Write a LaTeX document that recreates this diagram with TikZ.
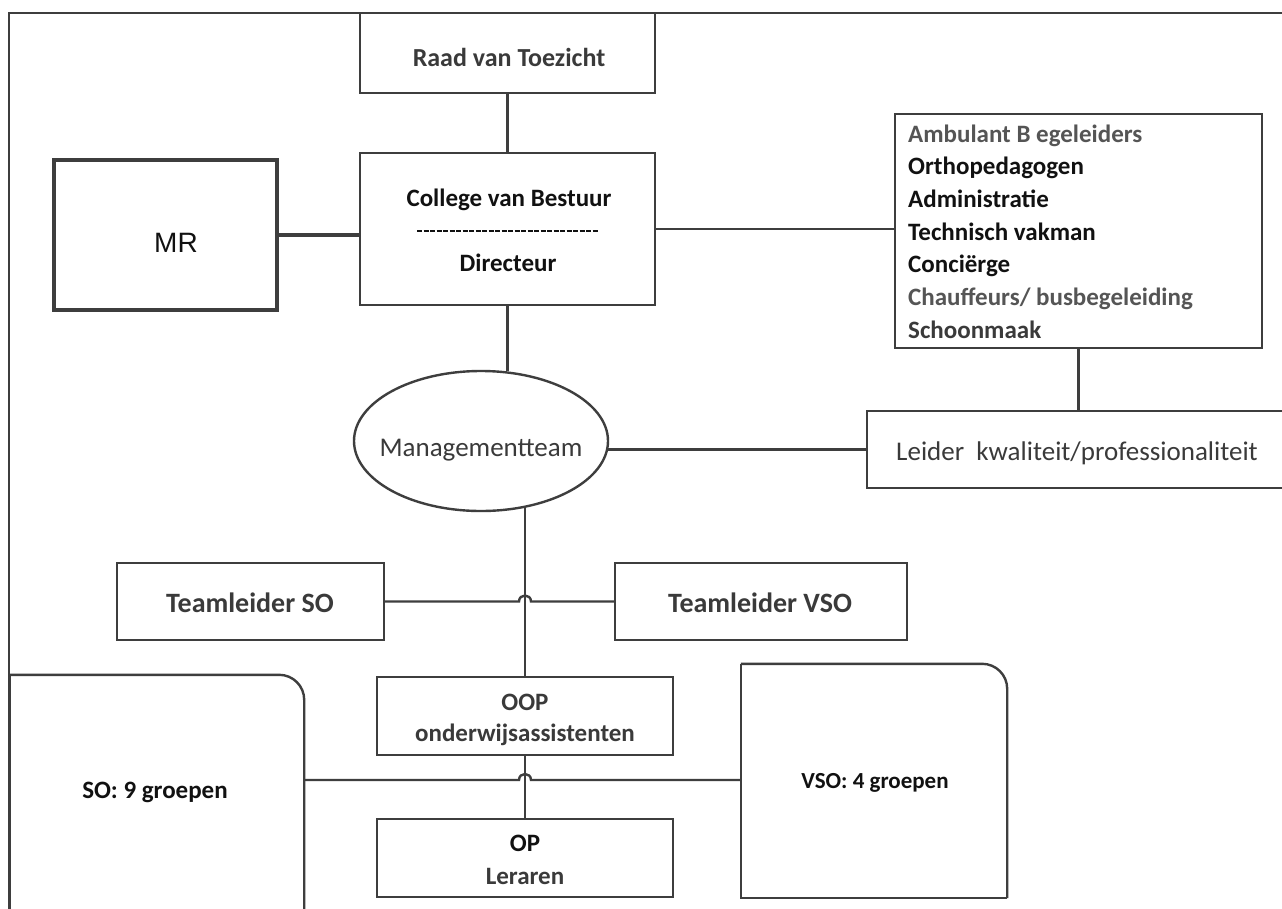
\documentclass[tikz,border=0pt]{standalone}
\usepackage{fontspec}
\setmainfont{Carlito}
\newfontfamily\arialf{Liberation Sans}
\usetikzlibrary{shapes.geometric,calc}
\definecolor{ln}{HTML}{3E3E3E}
\definecolor{tgA}{HTML}{3A3A3A}
\definecolor{tgB}{HTML}{555555}
\definecolor{tk}{HTML}{111111}
\begin{document}
\begin{tikzpicture}[x=1pt,y=-1pt,
  box/.style={draw=ln, line width=2.4pt, inner sep=0pt, fill=white},
  conn/.style={draw=ln, line width=2.4pt},
  txt/.style={inner sep=0pt, font=\fontsize{25}{30}\selectfont\bfseries},
  rtxt/.style={inner sep=0pt, font=\fontsize{27}{30}\selectfont},
  lst/.style={inner sep=0pt, anchor=base west, font=\fontsize{25}{30}\selectfont\bfseries},
]
\useasboundingbox (0,0) rectangle (1282,908);
\clip (0,0) rectangle (1282,908);
\fill[white] (0,0) rectangle (1282,908);

% frame
\draw[draw=ln, line width=2.8pt] (9,912) -- (9,13) -- (1290,13);

% boxes
\node[box, minimum width=295, minimum height=80] (raad) at (507.5,53) {};
\node[txt, text=tgA, font=\fontsize{26}{30}\selectfont\bfseries] (raadt) at (509,57) {Raad van Toezicht};

\node[box, minimum width=295, minimum height=152] (cvb) at (507.5,229) {};
\node[txt, text=tk] (cvbt) at (509,200) {College van Bestuur};
\node[txt, text=tk] (dirt) at (508,263) {Directeur};
\draw[tk, line width=1.2pt, dash pattern=on 5pt off 1.5pt] (417,231) -- (598,231);

\node[box, line width=3.8pt, minimum width=223, minimum height=150] (mr) at (165.5,235) {};
\node[inner sep=0pt, text=tk, font=\arialf\fontsize{28}{30}\selectfont] (mrt) at (176,243) {MR};

\node[box, minimum width=367, minimum height=234] (lst) at (1078.5,231) {};
\node[lst, text=tgB] (l1) at (908,142) {Ambulant B egeleiders};
\node[lst, text=tk] (l2) at (908,174.7) {Orthopedagogen};
\node[lst, text=tk] (l3) at (908,207.4) {Administratie};
\node[lst, text=tk] (l4) at (908,240.1) {Technisch vakman};
\node[lst, text=tk] (l5) at (908,272.8) {Conciërge};
\node[lst, text=tgB] (l6) at (908,305.5) {Chauffeurs/ busbegeleiding};
\node[lst, text=tgA] (l7) at (908,338.2) {Schoonmaak};

\node[draw=ln, line width=2.4pt, ellipse, inner sep=0pt, minimum width=254, minimum height=140] (mt) at (481,441) {};
\node[rtxt, text=tgA] (mtt) at (481,450) {Managementteam};

\node[box, minimum width=423, minimum height=77] (lk) at (1078.5,449.5) {};
\node[rtxt, text=tgA] (lkt) at (1077,453) {Leider\ \ kwaliteit/professionaliteit};

\node[box, minimum width=267, minimum height=77] (tso) at (250.5,601.5) {};
\node[txt, text=tgA, font=\fontsize{28}{30}\selectfont\bfseries] (tsot) at (250,603) {Teamleider SO};
\node[box, minimum width=292, minimum height=77] (tvso) at (761,601.5) {};
\node[txt, text=tgA, font=\fontsize{28}{30}\selectfont\bfseries] (tvsot) at (760,603) {Teamleider VSO};

\node[box, minimum width=296, minimum height=78] (oop) at (525,716) {};
\node[txt, text=tgA] (oopt) at (525,702) {OOP};
\node[txt, text=tgA] (oopt2) at (525,735) {onderwijsassistenten};

\node[box, minimum width=296, minimum height=78] (op) at (525,858) {};
\node[txt, text=tk] (opt) at (525,843) {OP};
\node[txt, text=tgA] (opt2) at (525,876) {Leraren};

% SO and VSO blocks with rounded top-right corner
\node[inner sep=0pt, minimum width=294, minimum height=240] (so) at (157,795) {};
\draw[conn, rounded corners=25pt] (so.north west) -- (so.north east) -- (so.south east);
\draw[conn] (so.north west) -- (so.south west);
\node[txt, text=tk] (sot) at (155,792) {SO: 9 groepen};

\node[inner sep=0pt, minimum width=266, minimum height=234] (vso) at (874,781) {};
\draw[conn] (vso.north west) -- (vso.south west) -- (vso.south east);
\draw[conn, rounded corners=25pt] (vso.north west) -- (vso.north east) -- (vso.south east);
\node[txt, text=tk, font=\fontsize{23}{30}\selectfont\bfseries] (vsot) at (875,783) {VSO: 4 groepen};

% connectors
\draw[conn] (raad.south) -- (cvb.north);
\draw[conn, line width=3.2pt] (mr.east) -- (cvb.west |- mr.east);
\draw[conn] (cvb.east) -- (lst.west |- cvb.east);
\draw[conn] (cvb.south) -- ($(cvb.south |- mt.north)+(0,1.5)$);
\draw[conn] (lst.south) -- (lk.north);
\draw[conn] (lk.west) -- ($(lk.west -| mt.east)+(-1,0)$);
\draw[conn] (oop.north) -- ($(oop.north |- mt.south)+(0,-4)$);

\coordinate (h1) at (oop.north |- tso.east);
\draw[conn] (tso.east) -- ($(h1)+(-6,0)$) .. controls ($(h1)+(-6,-8)$) and ($(h1)+(6,-8)$) .. ($(h1)+(6,0)$) -- (tvso.west);

\draw[conn] (oop.south) -- (op.north);
\coordinate (h2) at (525,780);
\draw[conn] (h2 -| so.east) -- ($(h2)+(-6,0)$) .. controls ($(h2)+(-6,-8)$) and ($(h2)+(6,-8)$) .. ($(h2)+(6,0)$) -- (h2 -| vso.west);
\end{tikzpicture}
\end{document}
